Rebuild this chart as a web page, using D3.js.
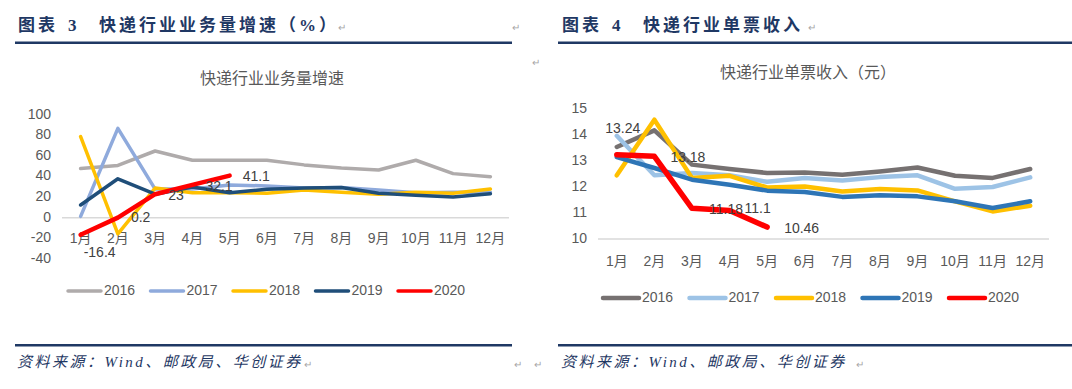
<!DOCTYPE html>
<html>
<head>
<meta charset="utf-8">
<script src="https://cdn.jsdelivr.net/npm/d3@7"></script>
<style>
  body { margin: 0; background: #fff; }
  svg text { font-family: "Liberation Sans", "Noto Sans CJK SC", sans-serif; }
  .head { font-family: "Liberation Serif", "Noto Sans CJK SC", serif !important; font-weight: bold; fill: #1F3864; font-size: 17px; letter-spacing: 3px; }
  .foot { font-family: "Liberation Serif", "Noto Sans CJK SC", serif !important; font-style: italic; fill: #1F3864; font-size: 15px; letter-spacing: 2.5px; }
  .mark { fill: #A6A6A6; font-size: 10px; }
</style>
</head>
<body>
<svg id="page" width="1072" height="389"></svg>
<script>
// months and series
const months = ['1月', '2月', '3月', '4月', '5月', '6月', '7月', '8月', '9月', '10月', '11月', '12月'];
const years = ['2016', '2017', '2018', '2019', '2020'];

// chart 3: business volume growth (%)
const vol2016 = [48, 51, 65, 56, 56, 56, 51.5, 48.5, 46.5, 56, 43, 40];
const vol2017 = [1.5, 87, 28, 28, 32, 31, 29, 29.5, 27, 24.5, 25, 25];
const vol2018 = [79, -15.5, 29, 24.5, 24.5, 24, 27, 25, 23, 25, 24, 28];
const vol2019 = [12.5, 38, 23, 30, 24.5, 27.7, 29, 29.5, 24, 22, 20.3, 23.5];
const vol2020 = [-16.4, 0.2, 23, 32.1, 41.1];
const volTicks = [100, 80, 60, 40, 20, 0, -20, -40];

// chart 4: revenue per parcel (yuan)
const rev2016 = [13.54, 14.18, 12.86, 12.69, 12.54, 12.56, 12.47, 12.6, 12.75, 12.43, 12.35, 12.69];
const rev2017 = [13.97, 12.45, 12.54, 12.45, 12.2, 12.35, 12.25, 12.38, 12.45, 11.93, 12.0, 12.37];
const rev2018 = [12.45, 14.59, 12.35, 12.43, 11.98, 12.02, 11.83, 11.92, 11.87, 11.45, 11.06, 11.28];
const rev2019 = [13.15, 12.73, 12.28, 12.09, 11.86, 11.81, 11.62, 11.68, 11.64, 11.45, 11.19, 11.45];
const rev2020 = [13.24, 13.18, 11.18, 11.1, 10.46];
const revTicks = [15, 14, 13, 12, 11, 10];

const svg = d3.select('#page');

// header, rule and source line for each panel
function frame(x0, x1, num, title, tx) {
  svg.append('text').attr('class', 'head').attr('x', tx).attr('y', 31).text('图表');
  svg.append('text').attr('class', 'head').attr('x', tx + 50).attr('y', 31).text(num);
  svg.append('text').attr('class', 'head').attr('x', tx + 81).attr('y', 31).text(title);
  svg.append('rect').attr('x', x0).attr('y', 41.5).attr('width', x1 - x0).attr('height', 2.5).attr('fill', '#1F3864');
  svg.append('rect').attr('x', x0).attr('y', 344).attr('width', x1 - x0).attr('height', 2.5).attr('fill', '#1F3864');
  svg.append('text').attr('class', 'foot').attr('x', tx - 1).attr('y', 367).text('资料来源：Wind、邮政局、华创证券');
}
frame(15, 512, '3', '快递行业业务量增速（%）', 18);
frame(558, 1072, '4', '快递行业单票收入', 562);

// the little paragraph marks of the word document
[[338, 31], [512, 31], [532, 66], [304, 368], [514, 368], [808, 31], [534, 368], [856, 368]].forEach(function(p) {
  svg.append('text').attr('class', 'mark').attr('x', p[0]).attr('y', p[1]).text('↵');
});

function drawChart(c) {
  let g = svg.append('g');

  let x = d3.scaleBand().domain(months).range([c.left, c.right]);
  let y = d3.scaleLinear().domain(c.domain).range([c.bottom, c.top]);

  g.append('text')
    .attr('x', c.titleX).attr('y', c.titleY)
    .attr('text-anchor', 'middle').attr('dominant-baseline', 'middle')
    .attr('fill', '#595959').style('font-size', '16px')
    .text(c.title);

  // baseline
  g.append('line')
    .attr('x1', c.left).attr('x2', c.right)
    .attr('y1', y(c.base)).attr('y2', y(c.base))
    .attr('stroke', '#D9D9D9').attr('stroke-width', 1.5);

  g.selectAll('.ytick').data(c.ticks).enter().append('text')
    .attr('x', c.left - 11).attr('y', function(d) {return y(d)})
    .attr('text-anchor', 'end').attr('dominant-baseline', 'middle')
    .attr('fill', '#595959').style('font-size', '14px')
    .text(function(d) {return d});

  g.selectAll('.xtick').data(months).enter().append('text')
    .attr('x', function(d) {return x(d) + x.bandwidth() / 2})
    .attr('y', c.xLabelY)
    .attr('text-anchor', 'middle').attr('dominant-baseline', 'middle')
    .attr('fill', '#595959').style('font-size', '14px')
    .text(function(d) {return d});

  let line = d3.line()
    .x(function(d, i) {return x(months[i]) + x.bandwidth() / 2})
    .y(function(d) {return y(d)});

  c.series.forEach(function(s, k) {
    g.append('path')
      .attr('d', line(s))
      .attr('fill', 'none')
      .attr('stroke', c.colors[k])
      .attr('stroke-width', k === 4 ? c.width + 1 : c.width)
      .attr('stroke-linejoin', 'round')
      .attr('stroke-linecap', 'round');
  });

  // value labels of 2020
  let last = c.series[4];
  g.selectAll('.lab').data(last).enter().append('text')
    .attr('x', function(d, i) {return x(months[i]) + x.bandwidth() / 2 + c.labelDx[i]})
    .attr('y', function(d) {return y(d)})
    .attr('dy', function(d, i) {return c.labelDy[i]})
    .attr('text-anchor', function(d, i) {return i === 0 ? 'middle' : 'start'})
    .attr('dominant-baseline', 'middle')
    .attr('fill', '#404040').style('font-size', '14px')
    .text(function(d) {return d});

  // legend
  years.forEach(function(yr, k) {
    let lx = c.legendX + k * c.legendStep;
    g.append('line')
      .attr('x1', lx).attr('x2', lx + c.legendLen)
      .attr('y1', c.legendY).attr('y2', c.legendY)
      .attr('stroke', c.colors[k]).attr('stroke-width', c.width)
      .attr('stroke-linecap', 'round');
    g.append('text')
      .attr('x', lx + c.legendLen + 3).attr('y', c.legendY)
      .attr('dominant-baseline', 'middle')
      .attr('fill', '#595959').style('font-size', '14px')
      .text(yr);
  });
}

drawChart({
  title: '快递行业业务量增速', titleX: 272, titleY: 80,
  left: 62, right: 509, top: 115, bottom: 259, domain: [-40, 100], base: 0,
  ticks: volTicks, xLabelY: 239,
  series: [vol2016, vol2017, vol2018, vol2019, vol2020],
  colors: ['#AFABAB', '#8FAADC', '#FFC000', '#1F4E79', '#FF0000'],
  width: 3.5,
  labelDx: [19, 13, 13, 13, 13], labelDy: [19, 1, 2, 2, 2],
  legendX: 68, legendStep: 82.5, legendLen: 33, legendY: 291
});

drawChart({
  title: '快递行业单票收入（元）', titleX: 808, titleY: 74,
  left: 598, right: 1049, top: 109, bottom: 239, domain: [10, 15], base: 10,
  ticks: revTicks, xLabelY: 262,
  series: [rev2016, rev2017, rev2018, rev2019, rev2020],
  colors: ['#767171', '#9DC3E6', '#FFC000', '#2E75B6', '#FF0000'],
  width: 4.5,
  labelDx: [6, 16, 17, 15, 17], labelDy: [-25, 2, 2, -1, 2],
  legendX: 603, legendStep: 86.5, legendLen: 36, legendY: 298
});
</script>
</body>
</html>
